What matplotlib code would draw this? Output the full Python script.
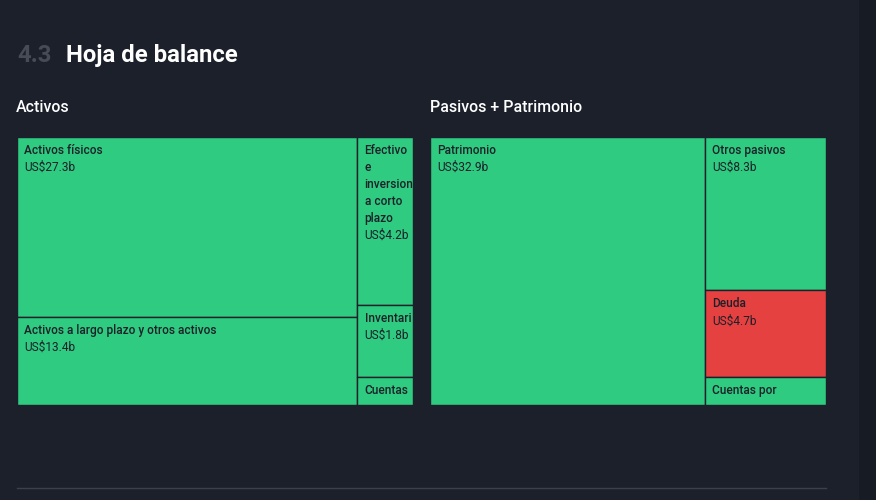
import matplotlib
matplotlib.use("Agg")
import matplotlib.pyplot as plt
from matplotlib.patches import Rectangle
from matplotlib.lines import Line2D
from matplotlib.font_manager import FontProperties

plt.rcParams['font.family'] = ['Roboto', 'DejaVu Sans']

BG = '#1b202b'
GREEN = '#2ecb80'
RED = '#e64141'
INK = '#1b2029'

# Activos
assets_labels = ['Activos físicos', 'Activos a largo plazo y otros activos',
                 'Efectivo e inversiones a corto plazo', 'Inventario', 'Cuentas por cobrar']
assets_values = [27.3, 13.4, 4.2, 1.8, 0.7]
assets_columns = [[0, 1], [2, 3, 4]]
assets_colors = [GREEN, GREEN, GREEN, GREEN, GREEN]

# Pasivos + Patrimonio
liab_labels = ['Patrimonio', 'Otros pasivos', 'Deuda', 'Cuentas por pagar']
liab_values = [32.9, 8.3, 4.7, 1.5]
liab_columns = [[0], [1, 2, 3]]
liab_colors = [GREEN, GREEN, RED, GREEN]

FS = 8.6
PAD = 7.5
LINE = 17
props = {
    'medium': FontProperties(family=['Roboto', 'DejaVu Sans'], size=FS, weight='medium'),
    'normal': FontProperties(family=['Roboto', 'DejaVu Sans'], size=FS, weight='normal'),
}

fig = plt.figure(figsize=(8.76, 5), dpi=100, facecolor=BG)
renderer = fig.canvas.get_renderer()


def text_w(s, prop):
    return renderer.get_text_width_height_descent(s, prop, ismath=False)[0]


def wrap(text, max_w):
    lines, cur = [], ''
    for word in text.split():
        trial = word if not cur else cur + ' ' + word
        if text_w(trial, props['medium']) <= max_w or not cur:
            cur = trial
        else:
            lines.append(cur)
            cur = word
    lines.append(cur)
    return lines


def fit(s, max_w, prop):
    # cut what would spill past the right edge of the cell
    while len(s) > 1 and text_w(s, prop) > max_w:
        s = s[:-1]
    return s


def draw_treemap(ax, labels, values, columns, colors):
    total = sum(values)
    ax.set_xlim(0, 1)
    ax.set_ylim(0, 1)
    ax.axis('off')
    x0 = 0
    for col in columns:
        col_sum = sum(values[i] for i in col)
        w = col_sum / total
        top = 1.0
        for i in col:
            h = values[i] / col_sum
            ax.add_patch(Rectangle((x0, top - h), w, h, facecolor=colors[i], edgecolor=BG, lw=1.0))
            p0 = ax.transData.transform((x0, top))
            p1 = ax.transData.transform((x0 + w, top - h))
            px_w, px_h = p1[0] - p0[0], p0[1] - p1[1]
            lines = wrap(labels[i], px_w * 0.75)
            texts = [(s, 'medium') for s in lines] + [(f"US${values[i]:.1f}b", 'normal')]
            for k, (s, wt) in enumerate(texts):
                if LINE * (k + 1) - 3 > px_h:
                    break
                s = fit(s, px_w - PAD + 1, props[wt])
                ax.annotate(s, (x0, top), xytext=(PAD, -LINE * (k + 1)),
                            textcoords='offset pixels', ha='left', va='baseline',
                            fontproperties=props[wt], color=INK)
            top -= h
        x0 += w


W, H = 876, 500
ax1 = fig.add_axes([17 / W, 1 - 405 / H, 396 / W, 268 / H])
ax2 = fig.add_axes([430 / W, 1 - 405 / H, 396 / W, 268 / H])
draw_treemap(ax1, assets_labels, assets_values, assets_columns, assets_colors)
draw_treemap(ax2, liab_labels, liab_values, liab_columns, liab_colors)

fig.text(17 / W, 1 - 62 / H, '4.3', color='#464b56', fontsize=17.2, weight='bold', va='baseline')
fig.text(66 / W, 1 - 62 / H, 'Hoja de balance', color='white', fontsize=17.2, weight='bold',
         va='baseline')
fig.text(16 / W, 1 - 112 / H, 'Activos', color='white', fontsize=11.4, weight='medium',
         va='baseline')
fig.text(430 / W, 1 - 112 / H, 'Pasivos + Patrimonio', color='white', fontsize=11.4,
         weight='medium', va='baseline')

# scrollbar strip and footer rule
fig.patches.append(Rectangle((859 / W, 0), 17 / W, 1, transform=fig.transFigure,
                             facecolor='#171b23', edgecolor='none'))
fig.lines.append(Line2D([17 / W, 826 / W], [1 - 488 / H, 1 - 488 / H], transform=fig.transFigure,
                        color='#3b404b', lw=1))

fig.savefig('out.png', dpi=100, facecolor=BG)
